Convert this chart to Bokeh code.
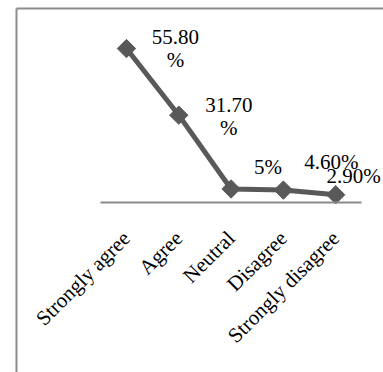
from bokeh.plotting import figure
from bokeh.models import (ColumnDataSource, LinearAxis, FixedTicker, Range1d)
from bokeh.core.properties import value
from bokeh.embed import file_html
from bokeh.resources import INLINE

# Survey responses (% of respondents)
categories = ["Strongly agree", "Agree", "Neutral", "Disagree", "Strongly disagree"]
percent = [55.8, 31.7, 5.0, 4.6, 2.9]
value_labels = ["55.80\n%", "31.70\n%", "5%", "4.60%", "2.90%"]

# label placement relative to each point (screen pixels, +y is down)
label_dx = [49, 50, 37, 48, 18]
label_dy = [0, 1, -22, -28, -19]

xpos = list(range(len(categories)))
src = ColumnDataSource(dict(x=xpos, y=percent, lab=value_labels,
                            dx=label_dx, dy=label_dy))

# chart-area edges sit slightly inside the frame so they are not clipped
edge_x, edge_y = -2.103, 70.3
x_start, x_end = -2.141, 4.914
y_start, y_end = -61.4, 71.02

p = figure(width=383, height=372, output_backend="svg", toolbar_location=None,
           x_axis_type=None, y_axis_type=None,
           x_range=Range1d(x_start, x_end), y_range=Range1d(y_start, y_end),
           min_border_left=14, min_border_top=6, min_border_right=0, min_border_bottom=0)
p.outline_line_color = None
p.xgrid.visible = False
p.ygrid.visible = False
p.background_fill_color = "white"
p.border_fill_color = "white"

# chart-area border (left and top edges)
border = "#8c8c8c"
p.segment(x0=[edge_x, edge_x], y0=[edge_y, edge_y], x1=[edge_x, x_end], y1=[y_start, edge_y],
          line_color=border, line_width=2)

# category axis sitting at zero
xaxis = LinearAxis(ticker=FixedTicker(ticks=xpos),
                   major_label_overrides={i: c for i, c in zip(xpos, categories)},
                   fixed_location=0, bounds=(-0.5, len(categories) - 0.5))
xaxis.axis_line_color = "#898989"
xaxis.axis_line_width = 2
xaxis.major_tick_line_color = None
xaxis.minor_tick_line_color = None
xaxis.major_label_orientation = 0.785398
xaxis.major_label_text_font = "Liberation Serif"
xaxis.major_label_text_font_size = "21px"
xaxis.major_label_text_color = "black"
xaxis.major_label_standoff = 26
p.add_layout(xaxis, "below")

line_color = "#595959"
p.line("x", "y", source=src, line_color=line_color, line_width=5)
p.scatter("x", "y", source=src, marker="square", size=13, angle=0.785398,
          fill_color=line_color, line_color=line_color)

p.text("x", "y", text="lab", source=src, x_offset="dx", y_offset="dy",
       text_font=value("Liberation Serif"), text_font_size="21px",
       text_color="black", text_align="center", text_baseline="middle",
       text_line_height=0.95)

open("out.html", "w").write(file_html(p, INLINE))
